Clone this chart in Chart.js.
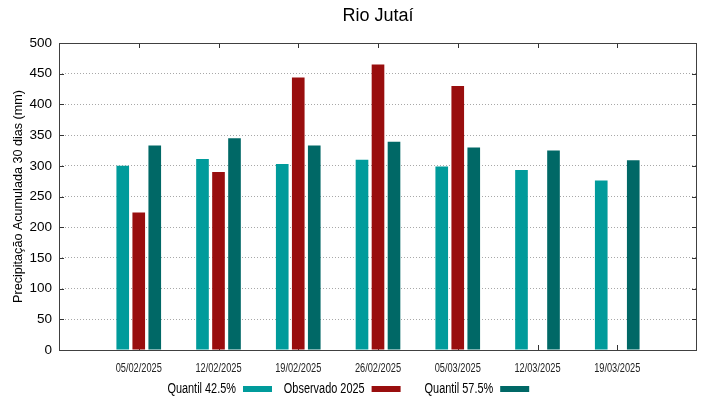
<!DOCTYPE html>
<html>
<head>
<meta charset="utf-8">
<script src="https://cdn.jsdelivr.net/npm/chart.js@4.4.1/dist/chart.umd.min.js"></script>
<style>
html,body{margin:0;padding:0;background:#fff;}
#wrap{width:719px;height:399px;position:relative;}
</style>
</head>
<body>
<div id="wrap"><canvas id="c" width="719" height="399"></canvas></div>
<script>
const titleText = 'Rio Jutaí';
const yTitle = 'Precipitação Acumulada 30 dias (mm)';
const categories = ['05/02/2025','12/02/2025','19/02/2025','26/02/2025','05/03/2025','12/03/2025','19/03/2025'];
const seriesNames = ['Quantil 42.5%','Observado 2025','Quantil 57.5%'];
const q425 = [300, 311, 303, 310, 299, 293, 276];
const obs2025 = [224, 290, 444, 465, 430, null, null];
const q575 = [333, 345, 333, 339, 330, 325, 309];
const yTicks = [0,50,100,150,200,250,300,350,400,450,500];

const colors = ['#009b9b','#990e0e','#006866'];
const SANS = "'Liberation Sans', Arial, sans-serif";

const pad = arr => [null, ...arr, null];
const labels = ['', ...categories, ''];

const decor = {
  id: 'decor',
  beforeDatasetsDraw(chart) {
    const {ctx, chartArea: a, scales} = chart;
    ctx.save();
    ctx.strokeStyle = '#333';
    ctx.lineWidth = 1;
    ctx.beginPath();
    yTicks.forEach(v => {
      const y = Math.round(scales.y.getPixelForValue(v)) + 0.5;
      ctx.moveTo(a.left, y); ctx.lineTo(a.left + 5, y);
      ctx.moveTo(a.right, y); ctx.lineTo(a.right - 5, y);
    });
    categories.forEach((c, i) => {
      const x = Math.round(scales.x.getPixelForValue(i + 1)) + 0.5;
      ctx.moveTo(x, a.bottom); ctx.lineTo(x, a.bottom - 5);
      ctx.moveTo(x, a.top); ctx.lineTo(x, a.top + 5);
    });
    ctx.stroke();
    ctx.restore();
  },
  afterDatasetsDraw(chart) {
    const {ctx, chartArea: a} = chart;
    ctx.save();
    ctx.strokeStyle = '#404040';
    ctx.lineWidth = 1;
    ctx.strokeRect(Math.round(a.left) + 0.5, Math.round(a.top) + 0.5,
                   Math.round(a.right - a.left) - 1, Math.round(a.bottom - a.top));
    ctx.restore();
  },
  afterDraw(chart) {
    const {ctx, chartArea: a, scales} = chart;
    ctx.save();
    ctx.fillStyle = '#000';
    // title
    ctx.font = '18px ' + SANS;
    ctx.textAlign = 'center';
    ctx.textBaseline = 'alphabetic';
    ctx.fillText(titleText, (a.left + a.right) / 2, 21);
    // y title
    ctx.save();
    ctx.translate(22, (a.top + a.bottom) / 2);
    ctx.rotate(-Math.PI / 2);
    ctx.font = '12.6px ' + SANS;
    ctx.textAlign = 'center';
    ctx.fillText(yTitle, 0, 0);
    ctx.restore();
    // x category labels (condensed)
    ctx.font = '12px ' + SANS;
    ctx.fillStyle = '#222';
    ctx.textAlign = 'center';
    categories.forEach((c, i) => {
      const x = scales.x.getPixelForValue(i + 1);
      ctx.save();
      ctx.translate(x, 371.5);
      ctx.scale(0.77, 1);
      ctx.fillText(c, 0, 0);
      ctx.restore();
    });
    // legend (gnuplot style: text, then sample)
    ctx.font = '14px ' + SANS;
    ctx.textAlign = 'right';
    seriesNames.forEach((name, i) => {
      const right = 236 + i * 128.6;
      ctx.fillStyle = '#000';
      ctx.save();
      ctx.translate(right, 393);
      ctx.scale(0.78, 1);
      ctx.fillText(name, 0, 0);
      ctx.restore();
      ctx.fillStyle = colors[i];
      ctx.fillRect(right + 7, 386, 29, 6);
    });
    ctx.restore();
  }
};

new Chart(document.getElementById('c'), {
  type: 'bar',
  data: {
    labels: labels,
    datasets: [
      {label: seriesNames[0], data: pad(q425), backgroundColor: colors[0]},
      {label: seriesNames[1], data: pad(obs2025), backgroundColor: colors[1]},
      {label: seriesNames[2], data: pad(q575), backgroundColor: colors[2]}
    ]
  },
  options: {
    responsive: false,
    animation: false,
    devicePixelRatio: 1,
    layout: {padding: {left: 0, right: 22, top: 43, bottom: 0}},
    datasets: {bar: {categoryPercentage: 0.602, barPercentage: 0.79, borderWidth: 0}},
    plugins: {legend: {display: false}, title: {display: false}, tooltip: {enabled: false}},
    scales: {
      x: {
        offset: false,
        grid: {display: false, drawTicks: false},
        border: {display: false},
        ticks: {display: false, autoSkip: false},
        afterFit(s) { s.height = 49; }
      },
      y: {
        min: 0, max: 500,
        afterBuildTicks(s) { s.ticks = yTicks.map(v => ({value: v})); },
        grid: {
          drawTicks: false,
          color: c => (c.tick && (c.tick.value === 0 || c.tick.value === 500)) ? 'rgba(0,0,0,0)' : '#a8a8a8',
          lineWidth: 1
        },
        border: {display: false, dash: [1, 2]},
        ticks: {padding: 7, color: '#000', font: {family: SANS, size: 13.5}},
        afterFit(s) { s.width = 59; }
      }
    }
  },
  plugins: [decor]
});
</script>
</body>
</html>
